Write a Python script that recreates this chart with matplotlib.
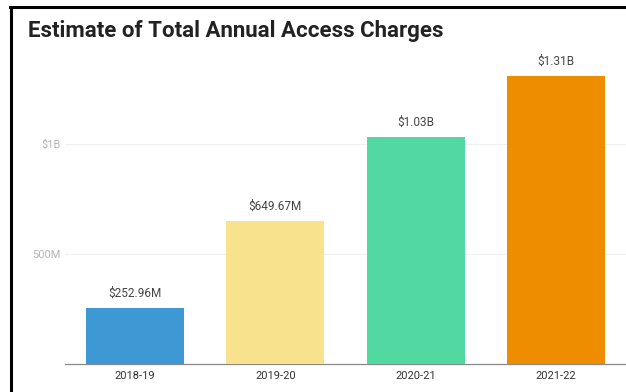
import matplotlib.pyplot as plt
from matplotlib.lines import Line2D

# 데이터
years = ['2018-19', '2019-20', '2020-21', '2021-22']
charges = [252.96e6, 649.67e6, 1.03e9, 1.31e9]
value_labels = ['$252.96M', '$649.67M', '$1.03B', '$1.31B']
bar_colors = ['#3d98d3', '#f8e28e', '#52d9a2', '#ef8d00']
tick_vals = [500e6, 1e9]
tick_labels = ['500M', '$1B']

plt.rcParams['font.family'] = ['Roboto', 'DejaVu Sans']

fig = plt.figure(figsize=(6.26, 3.92), dpi=100)
ax = fig.add_axes([65 / 626, 1 - 364 / 392, 561 / 626, (364 - 60) / 392])

x = range(len(years))
bars = ax.bar(x, charges, width=0.7, color=bar_colors, zorder=3)

# 막대 위 값 표시
for b, lab in zip(bars, value_labels):
    ax.annotate(lab, (b.get_x() + b.get_width() / 2, b.get_height()),
                xytext=(0, 6), textcoords='offset points',
                ha='center', va='bottom', fontsize=8.5, color='#444444')

ax.set_xlim(-0.5, 3.5)
ax.set_ylim(0, (364 - 60) / 220 * 1e9)
ax.set_xticks(list(x))
ax.set_xticklabels(years, fontsize=8, color='#333333')
ax.set_yticks(tick_vals)
ax.set_yticklabels(tick_labels, fontsize=8, color='#b5b5b5')
ax.tick_params(axis='both', length=0)
ax.tick_params(axis='y', pad=3)
ax.tick_params(axis='x', pad=5)
ax.grid(axis='y', color='#f0f0f0', linewidth=0.8, zorder=0)

for s in ['top', 'right', 'left']:
    ax.spines[s].set_visible(False)
ax.spines['bottom'].set_color('#888888')
ax.spines['bottom'].set_linewidth(0.9)

fig.text(28 / 626, 1 - 31 / 392, 'Estimate of Total Annual Access Charges',
         fontsize=16, fontweight='bold', color='#222222', va='center')

# 스크린샷 테두리
fig.add_artist(Line2D([10 / 626, 1], [1 - 7 / 392, 1 - 7 / 392],
                      color='black', linewidth=2.2))
fig.add_artist(Line2D([11 / 626, 11 / 626], [0, 1 - 7 / 392],
                      color='black', linewidth=2.2))

fig.savefig('out.png', dpi=100)
